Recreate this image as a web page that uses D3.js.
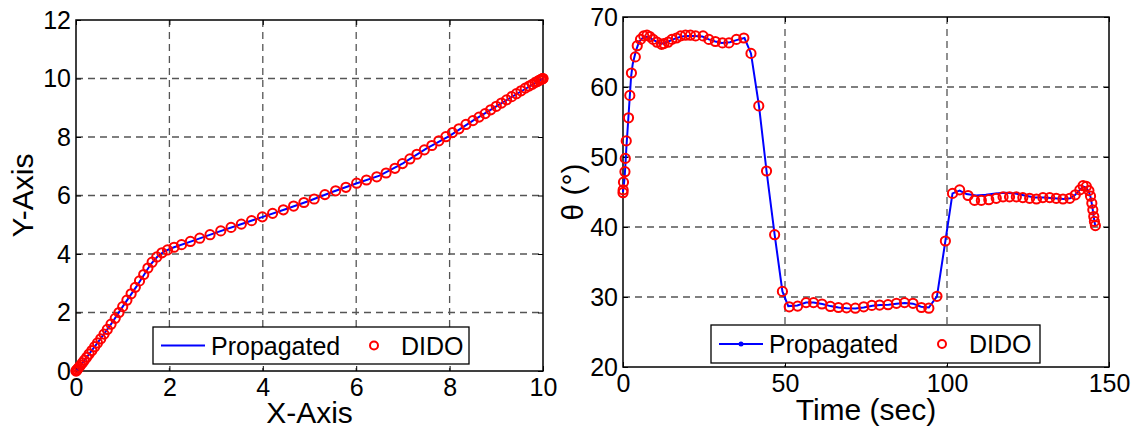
<!DOCTYPE html>
<html><head><meta charset="utf-8">
<script src="https://cdn.jsdelivr.net/npm/d3@7"></script>
<style>body{margin:0;background:#fff}svg{display:block}text{font-family:"Liberation Sans",Arial,sans-serif;fill:#000}</style>
</head><body>
<script>
// ---- Left panel data (trajectory) ----
const xyTicksX = [0, 2, 4, 6, 8, 10];
const xyTicksY = [0, 2, 4, 6, 8, 10, 12];
const didoX = [0,0.003,0.01,0.025,0.045,0.07,0.1,0.14,0.18,0.23,0.28,0.34,0.4,0.46,0.53,0.6,0.67,0.75,0.84,0.92,1.0,1.09,1.18,1.27,1.36,1.45,1.54,1.63,1.73,1.84,1.96,2.1,2.26,2.45,2.65,2.87,3.1,3.32,3.54,3.76,3.99,4.21,4.44,4.66,4.88,5.1,5.33,5.56,5.78,6.01,6.22,6.44,6.64,6.83,6.99,7.15,7.3,7.46,7.62,7.77,7.92,8.06,8.2,8.35,8.5,8.63,8.76,8.88,9.0,9.11,9.22,9.33,9.43,9.53,9.62,9.7,9.77,9.83,9.88,9.92,9.955,9.98,9.995,10];
const didoY = [0,0.005,0.02,0.05,0.09,0.14,0.2,0.28,0.37,0.47,0.58,0.7,0.83,0.96,1.1,1.26,1.42,1.6,1.8,2.0,2.2,2.42,2.64,2.86,3.08,3.3,3.52,3.72,3.9,4.04,4.14,4.23,4.32,4.43,4.54,4.66,4.79,4.91,5.02,5.14,5.27,5.39,5.51,5.64,5.76,5.88,6.03,6.16,6.28,6.42,6.53,6.64,6.77,6.93,7.09,7.25,7.41,7.56,7.71,7.87,8.01,8.15,8.28,8.43,8.56,8.68,8.8,8.93,9.05,9.16,9.27,9.38,9.48,9.58,9.67,9.74,9.8,9.86,9.9,9.94,9.965,9.985,9.997,10];
const propX = [0,0.05,0.15,0.3,0.5,0.75,1.0,1.3,1.6,1.75,1.9,2.1,2.5,3.0,3.5,4.0,4.5,5.0,5.5,6.0,6.5,7.0,7.5,8.0,8.5,9.0,9.5,10];
const propY = [0,0.1,0.3,0.62,1.05,1.6,2.2,2.9,3.65,3.92,4.1,4.23,4.45,4.73,5.0,5.27,5.54,5.82,6.13,6.41,6.68,7.1,7.6,8.04,8.56,9.05,9.53,10];

// ---- Right panel data (theta vs time) ----
const tTicksX = [0, 50, 100, 150];
const tTicksY = [20, 30, 40, 50, 60, 70];
const didoT = [0,0.05,0.15,0.6,0.7,1.0,1.7,2.1,2.6,3.8,4.4,5.4,6.4,7.4,8.3,9.3,10.5,11.9,12.6,13.9,15.1,16.5,17.8,19.3,20.8,22.4,24.7,26.5,28.5,30.7,32.7,35.0,37.3,39.5,41.9,44.3,46.8,49.2,51.3,53.9,56.5,58.8,61.4,64.0,66.5,69.0,71.7,74.3,76.8,79.2,81.8,84.4,86.9,89.5,92.1,94.4,96.9,99.5,101.7,103.9,106.5,108.5,110.6,112.9,115.2,117.3,119.3,121.4,123.4,125.5,127.6,129.6,131.7,133.7,135.8,137.9,139.6,141.0,142.0,143.0,143.8,144.3,144.7,145.0,145.3,145.5,145.8];
const didoTheta = [44.9,45.3,46.4,47.9,49.8,52.3,55.6,58.8,62.0,64.3,65.9,66.8,67.3,67.4,67.2,66.8,66.4,66.1,66.2,66.4,66.8,67.0,67.3,67.4,67.4,67.3,67.3,66.8,66.5,66.3,66.3,66.8,67.0,64.8,57.3,48.0,38.9,30.8,28.6,28.7,29.2,29.2,29.0,28.65,28.5,28.45,28.4,28.6,28.8,28.85,28.9,29.1,29.2,29.1,28.5,28.4,30.1,38.0,44.8,45.3,44.5,43.8,43.8,43.9,44.1,44.3,44.3,44.3,44.2,44.1,44.0,44.2,44.2,44.1,44.0,44.1,44.6,45.3,45.9,45.8,45.2,44.4,43.4,42.45,41.5,40.8,40.2];
const propT = [0,0.5,1,1.5,2,2.5,3,4,5,6.5,8,9.5,11,12.5,14,16,18,20,22,24.5,26.5,28.5,30.5,33,35,37.5,39.5,42,44.3,46.8,49.2,51,53.8,56.5,58.8,61.5,64,66.5,69,71.7,74.3,77,79.5,82,84.4,87,89.5,92,94.4,96.9,99.5,101.7,103.9,106,109,112,115,118,121,124,127,130,133,136,138,139.6,141,142,143,143.8,144.3,144.7,145,145.3,145.5,145.8];
const propTheta = [45,47,51,54.5,58,61.5,63.3,65.2,66.5,67.2,67.1,66.7,66.3,66.2,66.5,66.9,67.2,67.3,67.3,67.2,66.8,66.5,66.3,66.4,66.7,67.0,64.8,57.2,48,38.9,30.8,28.7,28.8,29.2,29.2,29.0,28.7,28.5,28.4,28.35,28.5,28.75,28.85,28.9,29.05,29.15,29.05,28.6,28.5,30.1,38,44.8,45.2,44.7,44.5,44.6,44.8,44.9,44.8,44.5,44.2,44.2,44.1,44.0,44.1,44.6,45.3,45.8,45.6,45.0,44.3,43.3,42.4,41.4,40.8,40.1];

const labels = ["Propagated", "DIDO"];

const W = 1138, H = 428;
const svg = d3.select("body").append("svg").attr("width", W).attr("height", H);
const FS = 25;   // tick + legend text
const LFS = 30;  // axis label text

function panel(o) {
  const x = d3.scaleLinear().domain(o.xd).range([o.l, o.r]);
  const y = d3.scaleLinear().domain(o.yd).range([o.b, o.t]);
  const g = svg.append("g");
  // grid
  g.selectAll(".gx").data(o.xt.filter(v => v !== o.xd[0] && v !== o.xd[1])).enter().append("line")
    .attr("x1", d => x(d)).attr("x2", d => x(d)).attr("y1", o.t).attr("y2", o.b)
    .attr("stroke", "#555").attr("stroke-width", 1.3).attr("stroke-dasharray", "7,5");
  g.selectAll(".gy").data(o.yt.filter(v => v !== o.yd[0] && v !== o.yd[1])).enter().append("line")
    .attr("y1", d => y(d)).attr("y2", d => y(d)).attr("x1", o.l).attr("x2", o.r)
    .attr("stroke", "#555").attr("stroke-width", 1.3).attr("stroke-dasharray", "7,5");
  // axes with inward ticks
  const ax = [
    [d3.axisBottom(x).tickValues(o.xt).tickSize(-5).tickPadding(7), `translate(0,${o.b})`],
    [d3.axisTop(x).tickValues(o.xt).tickSize(-5).tickFormat(""), `translate(0,${o.t})`],
    [d3.axisLeft(y).tickValues(o.yt).tickSize(-5).tickPadding(5), `translate(${o.l},0)`],
    [d3.axisRight(y).tickValues(o.yt).tickSize(-5).tickFormat(""), `translate(${o.r},0)`]
  ];
  ax.forEach(([a, tr]) => {
    const ag = g.append("g").attr("transform", tr).call(a);
    ag.select(".domain").remove();
    ag.selectAll("line").attr("stroke", "#000").attr("stroke-width", 1);
    ag.selectAll("text").attr("font-size", FS).attr("font-family", "Liberation Sans, Arial, sans-serif").attr("fill", "#000");
  });
  g.append("rect").attr("x", o.l).attr("y", o.t).attr("width", o.r - o.l).attr("height", o.b - o.t)
    .attr("fill", "none").attr("stroke", "#000").attr("stroke-width", 1.5);
  // line
  const line = d3.line().x(d => x(d[0])).y(d => y(d[1]));
  g.append("path").datum(o.px.map((v, i) => [v, o.py[i]])).attr("d", line)
    .attr("fill", "none").attr("stroke", "#0000ff").attr("stroke-width", 2);
  // DIDO markers
  g.selectAll(".m").data(o.dx.map((v, i) => [v, o.dy[i]])).enter().append("circle")
    .attr("cx", d => x(d[0])).attr("cy", d => y(d[1])).attr("r", 4.6)
    .attr("fill", "none").attr("stroke", "#ff0000").attr("stroke-width", 2);
  // axis labels
  g.append("text").attr("x", (o.l + o.r) / 2).attr("y", o.xlY).attr("text-anchor", "middle")
    .attr("font-size", LFS).text(o.xlabel);
  g.append("text").attr("transform", `translate(${o.ylX},${(o.t + o.b) / 2}) rotate(-90)`)
    .attr("text-anchor", "middle").attr("font-size", LFS).text(o.ylabel);
  // legend
  const lg = o.leg;
  g.append("rect").attr("x", lg.x).attr("y", lg.y).attr("width", lg.w).attr("height", lg.h)
    .attr("fill", "#fff").attr("stroke", "#000").attr("stroke-width", 1.3);
  const cy = lg.y + lg.h / 2;
  g.append("line").attr("x1", lg.x + 8).attr("x2", lg.x + 52).attr("y1", cy).attr("y2", cy)
    .attr("stroke", "#0000ff").attr("stroke-width", 2);
  if (lg.dot) g.append("circle").attr("cx", lg.x + 30).attr("cy", cy).attr("r", 2.5).attr("fill", "#0000ff");
  g.append("text").attr("x", lg.x + 58).attr("y", cy + 9).attr("font-size", FS).text(labels[0]);
  g.append("circle").attr("cx", lg.cx).attr("cy", cy).attr("r", 4).attr("fill", "none")
    .attr("stroke", "#ff0000").attr("stroke-width", 2);
  g.append("text").attr("x", lg.tx).attr("y", cy + 9).attr("font-size", FS).text(labels[1]);
}

panel({l: 76, r: 543, t: 20, b: 371, xd: [0, 10], yd: [0, 12], xt: xyTicksX, yt: xyTicksY,
  px: propX, py: propY, dx: didoX, dy: didoY, xlabel: "X-Axis", ylabel: "Y-Axis", xlY: 423, ylX: 33,
  leg: {x: 153, y: 327, w: 316, h: 37, cx: 374, tx: 401, dot: false}});
panel({l: 623, r: 1109, t: 17, b: 367, xd: [0, 150], yd: [20, 70], xt: tTicksX, yt: tTicksY,
  px: propT, py: propTheta, dx: didoT, dy: didoTheta, xlabel: "Time (sec)", ylabel: "θ (°)", xlY: 420, ylX: 583,
  leg: {x: 711, y: 325, w: 329, h: 38, cx: 942, tx: 969, dot: true}});
</script>
</body></html>
